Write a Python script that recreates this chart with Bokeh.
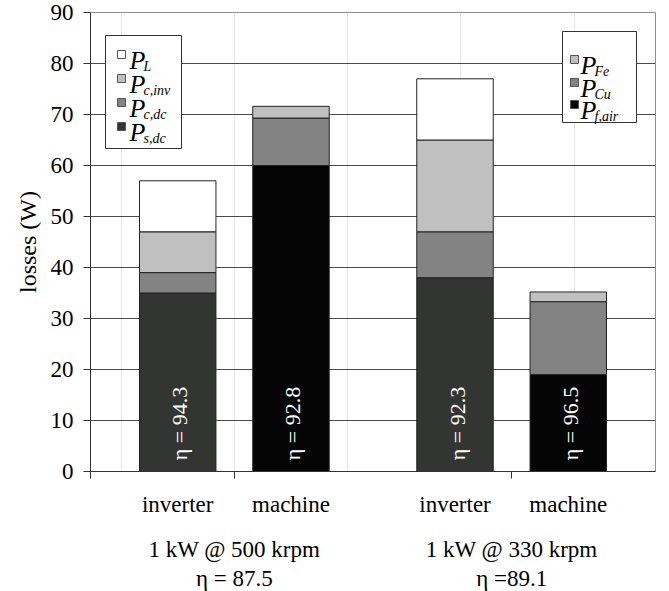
import math
from bokeh.plotting import figure
from bokeh.models import (Range1d, LinearAxis, FixedTicker, ColumnDataSource, Label, BoxAnnotation)
from bokeh.core.properties import value
from bokeh.embed import file_html
from bokeh.resources import INLINE

# ---------------- data ----------------
groups = ["1 kW @ 500 krpm", "1 kW @ 330 krpm"]
group_eta = ["η = 87.5", "η =89.1"]
parts = ["inverter", "machine"]

# inverter losses (W), stacked bottom -> top
inv_Ps_dc = [35, 38]
inv_Pc_dc = [4, 9]
inv_Pc_inv = [8, 18]
inv_P_L = [10, 12]
inv_eta = [94.3, 92.3]

# machine losses (W), stacked bottom -> top
mac_Pf_air = [60, 19]
mac_P_Cu = [9.3, 14.3]
mac_P_Fe = [2.3, 1.9]
mac_eta = [92.8, 96.5]

y_ticks = [0, 10, 20, 30, 40, 50, 60, 70, 80, 90]

# ---------------- style / layout ----------------
FONT = "Liberation Serif"
C_L, C_CINV, C_CDC, C_SDC = "#ffffff", "#c0c0c0", "#838383", "#333533"
C_FE, C_CU, C_FAIR = "#c0c0c0", "#838383", "#050505"
GP = 0.448   # extra gap between groups (in category widths)
RP = 0.27    # padding at both ends
BAR_W = 0.675

n_parts = len(parts)
span_end = len(groups) * n_parts + (len(groups) - 1) * GP


def slot(gi, pi):
    """category slot -> axis position"""
    return gi * (n_parts + GP) + pi + 0.5


leaf_pos = [slot(gi, pi) for gi in range(len(groups)) for pi in range(n_parts)]
group_pos = [gi * (n_parts + GP) + n_parts / 2 for gi in range(len(groups))]

p = figure(x_range=Range1d(-RP, span_end + RP), y_range=Range1d(y_ticks[0], y_ticks[-1]),
           frame_width=565, frame_height=459,
           min_border_left=90, min_border_right=14, min_border_top=12, min_border_bottom=120,
           x_axis_location=None, y_axis_location="left",
           output_backend="svg", toolbar_location=None)
p.outline_line_color = "#8f8f8f"
p.outline_line_width = 1
p.background_fill_color = "white"
p.border_fill_color = "white"

# y axis
ya = p.yaxis[0]
ya.ticker = FixedTicker(ticks=y_ticks)
ya.minor_tick_line_color = None
ya.major_tick_out = 7
ya.major_tick_in = 0
ya.axis_line_color = "#333333"
ya.major_tick_line_color = "#333333"
ya.major_label_text_font = FONT
ya.major_label_text_font_size = "23px"
ya.major_label_text_color = "black"
ya.major_label_standoff = 10
ya.axis_label = "losses (W)"
ya.axis_label_text_font = FONT
ya.axis_label_text_font_size = "24px"
ya.axis_label_text_font_style = "normal"
ya.axis_label_text_color = "black"
ya.axis_label_standoff = 7

p.ygrid.ticker = FixedTicker(ticks=y_ticks[1:-1])
p.ygrid.grid_line_color = "#4a4a4a"
p.ygrid.grid_line_width = 1

# bars
inv_src = ColumnDataSource(data=dict(
    x=[slot(gi, 0) for gi in range(len(groups))],
    Ps_dc=inv_Ps_dc, Pc_dc=inv_Pc_dc, Pc_inv=inv_Pc_inv, P_L=inv_P_L))
mac_src = ColumnDataSource(data=dict(
    x=[slot(gi, 1) for gi in range(len(groups))],
    Pf_air=mac_Pf_air, P_Cu=mac_P_Cu, P_Fe=mac_P_Fe))

p.vbar_stack(["Ps_dc", "Pc_dc", "Pc_inv", "P_L"], x="x", width=BAR_W, source=inv_src,
             color=[C_SDC, C_CDC, C_CINV, C_L], line_color="#222222", line_width=1)
p.vbar_stack(["Pf_air", "P_Cu", "P_Fe"], x="x", width=BAR_W, source=mac_src,
             color=[C_FAIR, C_CU, C_FE], line_color="#222222", line_width=1)

# efficiency inside bars
eta_x = [slot(gi, 0) for gi in range(len(groups))] + [slot(gi, 1) for gi in range(len(groups))]
eta_vals = inv_eta + mac_eta
eta_src = ColumnDataSource(data=dict(x=eta_x, y=[2.2] * len(eta_x),
                                     t=["η = %.1f" % v for v in eta_vals]))
p.text(x="x", y="y", text="t", source=eta_src, angle=math.pi / 2,
       text_align="left", text_baseline="middle", text_color="white",
       text_font=value(FONT), text_font_size="22px", x_offset=2)

# bottom axes
ax_leaf = LinearAxis(ticker=FixedTicker(ticks=leaf_pos, minor_ticks=[-RP] + group_pos),
                     major_label_overrides={pos: parts[i % n_parts] for i, pos in enumerate(leaf_pos)},
                     major_tick_line_color=None, major_tick_out=0, major_tick_in=0,
                     minor_tick_line_color="#333333", minor_tick_out=7, minor_tick_in=0,
                     axis_line_color="#333333",
                     major_label_standoff=13,
                     major_label_text_font=FONT, major_label_text_font_size="23px",
                     major_label_text_color="black")
p.add_layout(ax_leaf, "below")

ax_g1 = LinearAxis(ticker=FixedTicker(ticks=group_pos, minor_ticks=[]),
                   major_label_overrides={pos: groups[i] for i, pos in enumerate(group_pos)},
                   major_tick_line_color=None, major_tick_out=0, major_tick_in=0,
                   minor_tick_line_color=None, axis_line_color=None,
                   major_label_standoff=17,
                   major_label_text_font=FONT, major_label_text_font_size="23px",
                   major_label_text_color="black")
p.add_layout(ax_g1, "below")

ax_g2 = LinearAxis(ticker=FixedTicker(ticks=group_pos, minor_ticks=[]),
                   major_label_overrides={pos: group_eta[i] for i, pos in enumerate(group_pos)},
                   major_tick_line_color=None, major_tick_out=0, major_tick_in=0,
                   minor_tick_line_color=None, axis_line_color=None,
                   major_label_standoff=1,
                   major_label_text_font=FONT, major_label_text_font_size="23px",
                   major_label_text_color="black")
p.add_layout(ax_g2, "below")

# ---------------- legends (screen units) ----------------
def add_legend(box, entries, sq_x, p_x, sub_x):
    l, r, t, b = box
    p.add_layout(BoxAnnotation(left=l, right=r, top=t, bottom=b,
                               left_units="screen", right_units="screen",
                               top_units="screen", bottom_units="screen",
                               fill_color="white", fill_alpha=1,
                               line_color="#333333", line_alpha=1, line_width=1))
    for color, sub, base in entries:
        p.add_layout(BoxAnnotation(left=sq_x - 4, right=sq_x + 4, top=base + 10, bottom=base + 2,
                                   left_units="screen", right_units="screen",
                                   top_units="screen", bottom_units="screen",
                                   fill_color=color, fill_alpha=1,
                                   line_color="#555555", line_alpha=1, line_width=1))
        p.add_layout(Label(x=p_x, y=base, x_units="screen", y_units="screen", text="P",
                           text_font=FONT, text_font_style="italic", text_font_size="26px",
                           text_baseline="alphabetic", text_align="left", text_color="black"))
        p.add_layout(Label(x=sub_x, y=base - 6, x_units="screen", y_units="screen", text=sub,
                           text_font=FONT, text_font_style="italic", text_font_size="14px",
                           text_baseline="alphabetic", text_align="left", text_color="black"))

add_legend((15, 91, 436, 323),
           [(C_L, "L", 411), (C_CINV, "c,inv", 387), (C_CDC, "c,dc", 363), (C_SDC, "s,dc", 339)],
           31, 39, 53)
add_legend((472, 546, 440, 349),
           [(C_FE, "Fe", 406), (C_CU, "Cu", 383), (C_FAIR, "f,air", 361)],
           484, 490, 504)

open("out.html", "w").write(file_html(p, INLINE))
